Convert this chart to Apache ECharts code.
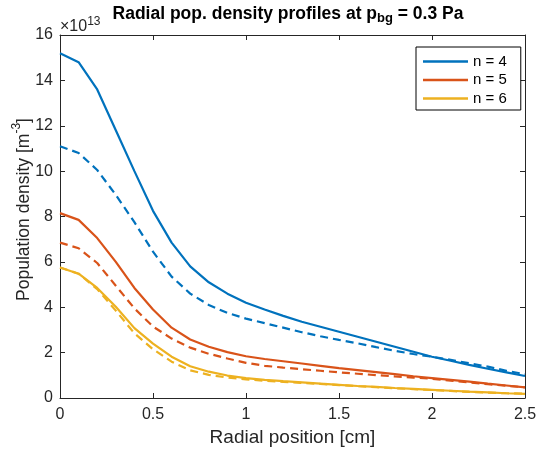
<!DOCTYPE html>
<html>
<head>
<meta charset="utf-8">
<script src="https://cdn.jsdelivr.net/npm/echarts@6/dist/echarts.min.js"></script>
<style>
html,body{margin:0;padding:0;background:#fff;}
#chart{width:536px;height:455px;}
</style>
</head>
<body>
<div id="chart"></div>
<script>
// Radial position [cm]
const radius = [0, 0.1, 0.2, 0.3, 0.4, 0.5, 0.6, 0.7, 0.8, 0.9, 1.0, 1.1, 1.2, 1.3, 1.4, 1.5, 1.6, 1.7, 1.8, 1.9, 2.0, 2.1, 2.2, 2.3, 2.4, 2.5];
// Population density (x 1e13 m^-3)
const n4Solid = [15.2, 14.8, 13.6, 11.8, 10.0, 8.25, 6.85, 5.8, 5.1, 4.6, 4.2, 3.9, 3.62, 3.36, 3.14, 2.92, 2.7, 2.48, 2.26, 2.04, 1.82, 1.64, 1.46, 1.29, 1.13, 0.97];
const n4Dashed = [11.1, 10.8, 10.05, 8.95, 7.75, 6.45, 5.35, 4.6, 4.1, 3.75, 3.5, 3.3, 3.1, 2.9, 2.72, 2.56, 2.41, 2.24, 2.08, 1.94, 1.82, 1.68, 1.53, 1.38, 1.2, 1.05];
const n5Solid = [8.15, 7.85, 7.05, 6.0, 4.85, 3.9, 3.1, 2.58, 2.26, 2.02, 1.84, 1.72, 1.62, 1.52, 1.42, 1.32, 1.23, 1.14, 1.05, 0.96, 0.88, 0.8, 0.72, 0.63, 0.55, 0.47];
const n5Dashed = [6.85, 6.6, 5.95, 4.95, 3.95, 3.15, 2.62, 2.22, 1.95, 1.74, 1.55, 1.42, 1.34, 1.27, 1.2, 1.13, 1.07, 1.01, 0.95, 0.9, 0.85, 0.77, 0.69, 0.61, 0.54, 0.47];
const n6Solid = [5.75, 5.48, 4.85, 4.02, 3.08, 2.4, 1.82, 1.4, 1.16, 0.99, 0.88, 0.8, 0.74, 0.69, 0.63, 0.58, 0.53, 0.49, 0.44, 0.4, 0.36, 0.32, 0.28, 0.25, 0.21, 0.18];
const n6Dashed = [5.75, 5.48, 4.8, 3.85, 2.85, 2.15, 1.6, 1.22, 1.02, 0.9, 0.82, 0.76, 0.71, 0.67, 0.62, 0.57, 0.52, 0.48, 0.43, 0.39, 0.35, 0.31, 0.27, 0.24, 0.21, 0.19];
const legendNames = ['n = 4', 'n = 5', 'n = 6'];
const colors = ['#0072BD', '#D95319', '#EDB120'];

const FONT = '"Liberation Sans", Arial, Helvetica, sans-serif';
const AX = '#262626';

function pairs(vals) { return radius.map((r, i) => [r, vals[i]]); }
function mk(name, vals, color, dashed) {
  return {
    name: name, type: 'line', data: pairs(vals), symbol: 'none', showSymbol: false,
    lineStyle: { color: color, width: 2.2, type: dashed ? [8, 5] : 'solid' },
    itemStyle: { color: color }, z: dashed ? 2 : 3, silent: true
  };
}

const chart = echarts.init(document.getElementById('chart'), null, { renderer: 'canvas' });
chart.setOption({
  animation: false,
  backgroundColor: '#ffffff',
  textStyle: { fontFamily: FONT },
  title: {
    text: '{a|Radial pop. density profiles at p}{s|bg}{a| = 0.3 Pa}',
    left: 283, top: 0, textAlign: 'center',
    textStyle: {
      rich: {
        a: { fontFamily: FONT, fontSize: 17.5, fontWeight: 'bold', color: '#000', lineHeight: 20, verticalAlign: 'top' },
        s: { fontFamily: FONT, fontSize: 13, fontWeight: 'bold', color: '#000', lineHeight: 20, verticalAlign: 'bottom', padding: [10, 0, 0, 0] }
      }
    }
  },
  graphic: [{
    type: 'text', left: 60, top: 16,
    style: {
      text: '{a|×10}{s|13}',
      rich: {
        a: { fontFamily: FONT, fontSize: 16, fill: AX, lineHeight: 19, verticalAlign: 'bottom' },
        s: { fontFamily: FONT, fontSize: 12, fill: AX, lineHeight: 19, verticalAlign: 'top' }
      }
    }
  }],
  legend: {
    data: legendNames,
    orient: 'vertical', left: 416, top: 47,
    icon: 'rect',
    itemWidth: 45, itemHeight: 2.5, itemGap: 3.5,
    padding: [7, 14, 4, 7],
    backgroundColor: '#fff', borderColor: '#000', borderWidth: 1, borderRadius: 0,
    textStyle: { fontFamily: FONT, fontSize: 15, color: '#000' },
    selectedMode: false
  },
  grid: { left: 60, right: 11, top: 35, bottom: 57, containLabel: false, outerBoundsMode: 'none' },
  xAxis: [{
    type: 'value', min: 0, max: 2.5, interval: 0.5,
    name: 'Radial position [cm]', nameLocation: 'middle', nameGap: 30,
    nameTextStyle: { fontFamily: FONT, fontSize: 19, color: AX },
    axisLine: { show: true, onZero: false, lineStyle: { color: AX, width: 1 } },
    axisTick: { show: true, inside: true, length: 5, lineStyle: { color: AX } },
    axisLabel: { fontFamily: FONT, fontSize: 16, color: AX, margin: 9 },
    splitLine: { show: false }
  }, {
    type: 'value', min: 0, max: 2.5, interval: 0.5, position: 'top',
    axisLine: { show: true, onZero: false, lineStyle: { color: AX, width: 1 } },
    axisTick: { show: true, inside: true, length: 5, lineStyle: { color: AX } },
    axisLabel: { show: false }, splitLine: { show: false }
  }],
  yAxis: [{
    type: 'value', min: 0, max: 16, interval: 2,
    name: '{a|Population density [m}{s|-3}{a|]}', nameLocation: 'middle', nameGap: 27, nameRotate: 90,
    nameMoveOverlap: false,
    nameTextStyle: {
      padding: [0, 0, 0, 14],
      rich: {
        a: { fontFamily: FONT, fontSize: 17.5, color: AX, lineHeight: 22, verticalAlign: 'bottom' },
        s: { fontFamily: FONT, fontSize: 12, color: AX, lineHeight: 22, verticalAlign: 'top' }
      }
    },
    axisLine: { show: true, onZero: false, lineStyle: { color: AX, width: 1 } },
    axisTick: { show: true, inside: true, length: 5, lineStyle: { color: AX } },
    axisLabel: { fontFamily: FONT, fontSize: 16, color: AX, margin: 7 },
    splitLine: { show: false }
  }, {
    type: 'value', min: 0, max: 16, interval: 2, position: 'right',
    axisLine: { show: true, onZero: false, lineStyle: { color: AX, width: 1 } },
    axisTick: { show: true, inside: true, length: 5, lineStyle: { color: AX } },
    axisLabel: { show: false }, splitLine: { show: false }
  }],
  series: [
    mk(legendNames[0], n4Solid, colors[0], false),
    mk(legendNames[1], n5Solid, colors[1], false),
    mk(legendNames[2], n6Solid, colors[2], false),
    mk('n = 4 (dashed)', n4Dashed, colors[0], true),
    mk('n = 5 (dashed)', n5Dashed, colors[1], true),
    mk('n = 6 (dashed)', n6Dashed, colors[2], true)
  ]
});
</script>
</body>
</html>
